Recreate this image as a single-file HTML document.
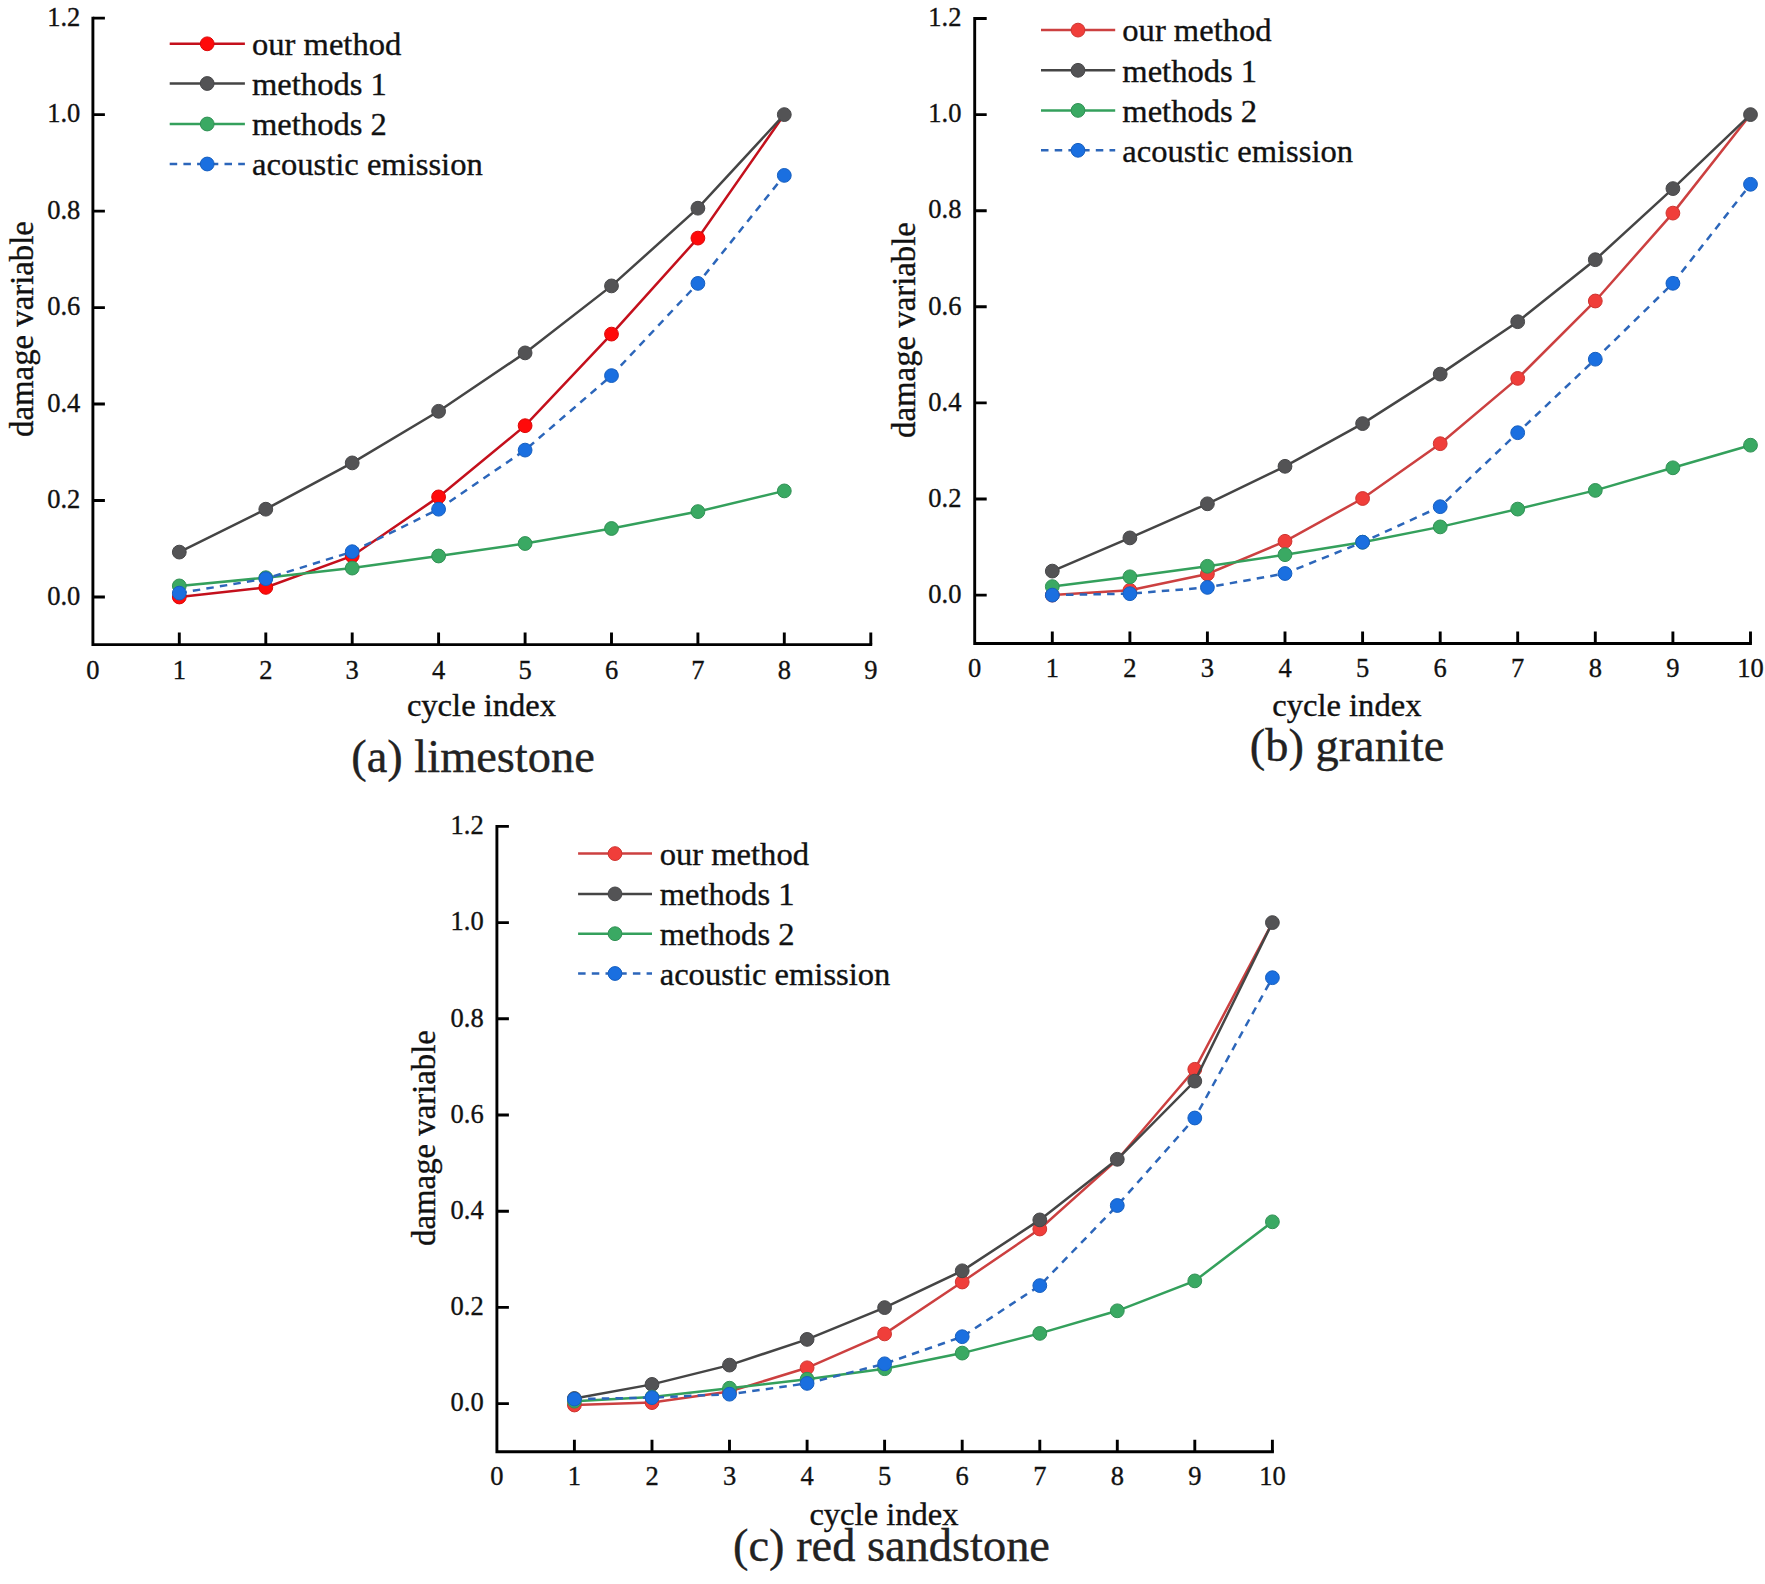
<!DOCTYPE html>
<html lang="en"><head><meta charset="utf-8"><title>Damage variable vs cycle index</title>
<style>
html,body{margin:0;padding:0;background:#fff;}
body{width:1765px;height:1584px;overflow:hidden;}
svg{display:block;font-family:"Liberation Serif", serif;}
text{stroke:#111;stroke-width:0.35px;paint-order:stroke fill;}
</style></head><body>
<svg width="1765" height="1584" viewBox="0 0 1765 1584">
<rect width="1765" height="1584" fill="#fff"/>
<g id="panel-a">
<path d="M92.9 16.7V644.6H872.2" fill="none" stroke="#000" stroke-width="2.9" stroke-linejoin="miter"/>
<path d="M92.9 597.0h12M92.9 500.5h12M92.9 404.0h12M92.9 307.6h12M92.9 211.1h12M92.9 114.6h12M92.9 18.1h12M179.3 644.6v-12M265.8 644.6v-12M352.2 644.6v-12M438.6 644.6v-12M525.1 644.6v-12M611.5 644.6v-12M697.9 644.6v-12M784.3 644.6v-12M870.8 644.6v-12" fill="none" stroke="#000" stroke-width="2.9"/>
<g font-size="26.5" fill="#111" text-anchor="end">
<text x="80.3" y="604.7">0.0</text>
<text x="80.3" y="508.2">0.2</text>
<text x="80.3" y="411.7">0.4</text>
<text x="80.3" y="315.3">0.6</text>
<text x="80.3" y="218.8">0.8</text>
<text x="80.3" y="122.3">1.0</text>
<text x="80.3" y="25.8">1.2</text>
</g>
<g font-size="26.5" fill="#111" text-anchor="middle">
<text x="92.9" y="678.9">0</text>
<text x="179.3" y="678.9">1</text>
<text x="265.8" y="678.9">2</text>
<text x="352.2" y="678.9">3</text>
<text x="438.6" y="678.9">4</text>
<text x="525.1" y="678.9">5</text>
<text x="611.5" y="678.9">6</text>
<text x="697.9" y="678.9">7</text>
<text x="784.3" y="678.9">8</text>
<text x="870.8" y="678.9">9</text>
</g>
<text font-size="32.8" fill="#111" text-anchor="middle" transform="translate(32.7 329) rotate(-90)">damage variable</text>
<text font-size="32.6" fill="#111" text-anchor="middle" x="481.5" y="715.5">cycle index</text>
<text font-size="46.4" fill="#222" text-anchor="middle" x="473" y="771.5">(a) limestone</text>
<path d="M179.3 597.0L265.8 587.4L352.2 556.0L438.6 496.9L525.1 425.7L611.5 334.1L697.9 238.1L784.3 114.6" fill="none" stroke="#c4101c" stroke-width="2.5"/>
<g fill="#ff0a0a" stroke="#db0808" stroke-width="1"><circle cx="179.3" cy="597.0" r="6.9"/><circle cx="265.8" cy="587.4" r="6.9"/><circle cx="352.2" cy="556.0" r="6.9"/><circle cx="438.6" cy="496.9" r="6.9"/><circle cx="525.1" cy="425.7" r="6.9"/><circle cx="611.5" cy="334.1" r="6.9"/><circle cx="697.9" cy="238.1" r="6.9"/></g>
<path d="M179.3 552.1L265.8 509.2L352.2 462.9L438.6 411.3L525.1 352.9L611.5 285.9L697.9 208.2L784.3 114.6" fill="none" stroke="#454545" stroke-width="2.5"/>
<g fill="#535355" stroke="#474749" stroke-width="1"><circle cx="179.3" cy="552.1" r="6.9"/><circle cx="265.8" cy="509.2" r="6.9"/><circle cx="352.2" cy="462.9" r="6.9"/><circle cx="438.6" cy="411.3" r="6.9"/><circle cx="525.1" cy="352.9" r="6.9"/><circle cx="611.5" cy="285.9" r="6.9"/><circle cx="697.9" cy="208.2" r="6.9"/><circle cx="784.3" cy="114.6" r="6.9"/></g>
<path d="M179.3 585.9L265.8 577.7L352.2 568.1L438.6 556.0L525.1 543.5L611.5 528.5L697.9 511.6L784.3 490.9" fill="none" stroke="#34a05c" stroke-width="2.5"/>
<g fill="#3aa963" stroke="#319155" stroke-width="1"><circle cx="179.3" cy="585.9" r="6.9"/><circle cx="265.8" cy="577.7" r="6.9"/><circle cx="352.2" cy="568.1" r="6.9"/><circle cx="438.6" cy="556.0" r="6.9"/><circle cx="525.1" cy="543.5" r="6.9"/><circle cx="611.5" cy="528.5" r="6.9"/><circle cx="697.9" cy="511.6" r="6.9"/><circle cx="784.3" cy="490.9" r="6.9"/></g>
<path d="M179.3 593.1L265.8 578.7L352.2 551.7L438.6 509.2L525.1 450.1L611.5 375.6L697.9 283.4L784.3 175.4" fill="none" stroke="#2c66ba" stroke-width="2.5" stroke-dasharray="7.5 6.2"/>
<g fill="#1a6fe0" stroke="#165fc0" stroke-width="1"><circle cx="179.3" cy="593.1" r="6.9"/><circle cx="265.8" cy="578.7" r="6.9"/><circle cx="352.2" cy="551.7" r="6.9"/><circle cx="438.6" cy="509.2" r="6.9"/><circle cx="525.1" cy="450.1" r="6.9"/><circle cx="611.5" cy="375.6" r="6.9"/><circle cx="697.9" cy="283.4" r="6.9"/><circle cx="784.3" cy="175.4" r="6.9"/></g>
<path d="M169.7 43.8H244.9" stroke="#c4101c" stroke-width="2.5"/>
<circle cx="207.2" cy="43.8" r="6.9" fill="#ff0a0a" stroke="#db0808" stroke-width="1"/>
<text font-size="32.6" fill="#111" x="252" y="55.0">our method</text>
<path d="M169.7 83.5H244.9" stroke="#454545" stroke-width="2.5"/>
<circle cx="207.2" cy="83.5" r="6.9" fill="#535355" stroke="#474749" stroke-width="1"/>
<text font-size="32.6" fill="#111" x="252" y="94.7">methods 1</text>
<path d="M169.7 124H244.9" stroke="#34a05c" stroke-width="2.5"/>
<circle cx="207.2" cy="124" r="6.9" fill="#3aa963" stroke="#319155" stroke-width="1"/>
<text font-size="32.6" fill="#111" x="252" y="135.2">methods 2</text>
<path d="M169.7 164H244.9" stroke="#2c66ba" stroke-width="2.5" stroke-dasharray="7.5 6.2"/>
<circle cx="207.2" cy="164" r="6.9" fill="#1a6fe0" stroke="#165fc0" stroke-width="1"/>
<text font-size="32.6" fill="#111" x="252" y="175.2">acoustic emission</text>
</g>
<g id="panel-b">
<path d="M974.7 17.1V643.5H1751.9" fill="none" stroke="#000" stroke-width="2.9" stroke-linejoin="miter"/>
<path d="M974.7 595.1h12M974.7 499.0h12M974.7 402.9h12M974.7 306.8h12M974.7 210.7h12M974.7 114.6h12M974.7 18.5h12M1052.3 643.5v-12M1129.9 643.5v-12M1207.4 643.5v-12M1285.0 643.5v-12M1362.6 643.5v-12M1440.2 643.5v-12M1517.7 643.5v-12M1595.3 643.5v-12M1672.9 643.5v-12M1750.5 643.5v-12" fill="none" stroke="#000" stroke-width="2.9"/>
<g font-size="26.5" fill="#111" text-anchor="end">
<text x="961.4" y="602.8">0.0</text>
<text x="961.4" y="506.7">0.2</text>
<text x="961.4" y="410.6">0.4</text>
<text x="961.4" y="314.5">0.6</text>
<text x="961.4" y="218.4">0.8</text>
<text x="961.4" y="122.3">1.0</text>
<text x="961.4" y="26.2">1.2</text>
</g>
<g font-size="26.5" fill="#111" text-anchor="middle">
<text x="974.7" y="676.9">0</text>
<text x="1052.3" y="676.9">1</text>
<text x="1129.9" y="676.9">2</text>
<text x="1207.4" y="676.9">3</text>
<text x="1285.0" y="676.9">4</text>
<text x="1362.6" y="676.9">5</text>
<text x="1440.2" y="676.9">6</text>
<text x="1517.7" y="676.9">7</text>
<text x="1595.3" y="676.9">8</text>
<text x="1672.9" y="676.9">9</text>
<text x="1750.5" y="676.9">10</text>
</g>
<text font-size="32.8" fill="#111" text-anchor="middle" transform="translate(915.1 330) rotate(-90)">damage variable</text>
<text font-size="32.6" fill="#111" text-anchor="middle" x="1346.8" y="715.5">cycle index</text>
<text font-size="46.4" fill="#222" text-anchor="middle" x="1347" y="760.7">(b) granite</text>
<path d="M1052.3 595.1L1129.9 590.3L1207.4 574.0L1285.0 541.3L1362.6 498.5L1440.2 443.7L1517.7 378.4L1595.3 301.0L1672.9 213.1L1750.5 114.6" fill="none" stroke="#cc4040" stroke-width="2.5"/>
<g fill="#f03e3a" stroke="#ce3531" stroke-width="1"><circle cx="1052.3" cy="595.1" r="6.9"/><circle cx="1129.9" cy="590.3" r="6.9"/><circle cx="1207.4" cy="574.0" r="6.9"/><circle cx="1285.0" cy="541.3" r="6.9"/><circle cx="1362.6" cy="498.5" r="6.9"/><circle cx="1440.2" cy="443.7" r="6.9"/><circle cx="1517.7" cy="378.4" r="6.9"/><circle cx="1595.3" cy="301.0" r="6.9"/><circle cx="1672.9" cy="213.1" r="6.9"/></g>
<path d="M1052.3 571.1L1129.9 537.9L1207.4 503.8L1285.0 466.3L1362.6 423.6L1440.2 374.1L1517.7 321.7L1595.3 259.7L1672.9 188.6L1750.5 114.6" fill="none" stroke="#454545" stroke-width="2.5"/>
<g fill="#535355" stroke="#474749" stroke-width="1"><circle cx="1052.3" cy="571.1" r="6.9"/><circle cx="1129.9" cy="537.9" r="6.9"/><circle cx="1207.4" cy="503.8" r="6.9"/><circle cx="1285.0" cy="466.3" r="6.9"/><circle cx="1362.6" cy="423.6" r="6.9"/><circle cx="1440.2" cy="374.1" r="6.9"/><circle cx="1517.7" cy="321.7" r="6.9"/><circle cx="1595.3" cy="259.7" r="6.9"/><circle cx="1672.9" cy="188.6" r="6.9"/><circle cx="1750.5" cy="114.6" r="6.9"/></g>
<path d="M1052.3 586.6L1129.9 576.8L1207.4 566.3L1285.0 554.7L1362.6 542.2L1440.2 526.9L1517.7 509.1L1595.3 490.4L1672.9 467.8L1750.5 445.2" fill="none" stroke="#34a05c" stroke-width="2.5"/>
<g fill="#3aa963" stroke="#319155" stroke-width="1"><circle cx="1052.3" cy="586.6" r="6.9"/><circle cx="1129.9" cy="576.8" r="6.9"/><circle cx="1207.4" cy="566.3" r="6.9"/><circle cx="1285.0" cy="554.7" r="6.9"/><circle cx="1362.6" cy="542.2" r="6.9"/><circle cx="1440.2" cy="526.9" r="6.9"/><circle cx="1517.7" cy="509.1" r="6.9"/><circle cx="1595.3" cy="490.4" r="6.9"/><circle cx="1672.9" cy="467.8" r="6.9"/><circle cx="1750.5" cy="445.2" r="6.9"/></g>
<path d="M1052.3 595.1L1129.9 593.7L1207.4 587.4L1285.0 573.5L1362.6 542.2L1440.2 506.7L1517.7 432.7L1595.3 359.2L1672.9 283.3L1750.5 184.3" fill="none" stroke="#2c66ba" stroke-width="2.5" stroke-dasharray="7.5 6.2"/>
<g fill="#1a6fe0" stroke="#165fc0" stroke-width="1"><circle cx="1052.3" cy="595.1" r="6.9"/><circle cx="1129.9" cy="593.7" r="6.9"/><circle cx="1207.4" cy="587.4" r="6.9"/><circle cx="1285.0" cy="573.5" r="6.9"/><circle cx="1362.6" cy="542.2" r="6.9"/><circle cx="1440.2" cy="506.7" r="6.9"/><circle cx="1517.7" cy="432.7" r="6.9"/><circle cx="1595.3" cy="359.2" r="6.9"/><circle cx="1672.9" cy="283.3" r="6.9"/><circle cx="1750.5" cy="184.3" r="6.9"/></g>
<path d="M1041 30.1H1115.2" stroke="#cc4040" stroke-width="2.5"/>
<circle cx="1078" cy="30.1" r="6.9" fill="#f03e3a" stroke="#ce3531" stroke-width="1"/>
<text font-size="32.6" fill="#111" x="1122.3" y="41.3">our method</text>
<path d="M1041 70.3H1115.2" stroke="#454545" stroke-width="2.5"/>
<circle cx="1078" cy="70.3" r="6.9" fill="#535355" stroke="#474749" stroke-width="1"/>
<text font-size="32.6" fill="#111" x="1122.3" y="81.5">methods 1</text>
<path d="M1041 110.4H1115.2" stroke="#34a05c" stroke-width="2.5"/>
<circle cx="1078" cy="110.4" r="6.9" fill="#3aa963" stroke="#319155" stroke-width="1"/>
<text font-size="32.6" fill="#111" x="1122.3" y="121.6">methods 2</text>
<path d="M1041 150.3H1115.2" stroke="#2c66ba" stroke-width="2.5" stroke-dasharray="7.5 6.2"/>
<circle cx="1078" cy="150.3" r="6.9" fill="#1a6fe0" stroke="#165fc0" stroke-width="1"/>
<text font-size="32.6" fill="#111" x="1122.3" y="161.5">acoustic emission</text>
</g>
<g id="panel-c">
<path d="M496.9 824.9V1451.8H1273.9" fill="none" stroke="#000" stroke-width="2.9" stroke-linejoin="miter"/>
<path d="M496.9 1403.6h12M496.9 1307.4h12M496.9 1211.2h12M496.9 1115.0h12M496.9 1018.8h12M496.9 922.6h12M496.9 826.4h12M574.4 1451.8v-12M652.0 1451.8v-12M729.5 1451.8v-12M807.1 1451.8v-12M884.6 1451.8v-12M962.2 1451.8v-12M1039.8 1451.8v-12M1117.3 1451.8v-12M1194.8 1451.8v-12M1272.4 1451.8v-12" fill="none" stroke="#000" stroke-width="2.9"/>
<g font-size="26.5" fill="#111" text-anchor="end">
<text x="483.7" y="1411.3">0.0</text>
<text x="483.7" y="1315.1">0.2</text>
<text x="483.7" y="1218.9">0.4</text>
<text x="483.7" y="1122.7">0.6</text>
<text x="483.7" y="1026.5">0.8</text>
<text x="483.7" y="930.3">1.0</text>
<text x="483.7" y="834.1">1.2</text>
</g>
<g font-size="26.5" fill="#111" text-anchor="middle">
<text x="496.9" y="1485.2">0</text>
<text x="574.4" y="1485.2">1</text>
<text x="652.0" y="1485.2">2</text>
<text x="729.5" y="1485.2">3</text>
<text x="807.1" y="1485.2">4</text>
<text x="884.6" y="1485.2">5</text>
<text x="962.2" y="1485.2">6</text>
<text x="1039.8" y="1485.2">7</text>
<text x="1117.3" y="1485.2">8</text>
<text x="1194.8" y="1485.2">9</text>
<text x="1272.4" y="1485.2">10</text>
</g>
<text font-size="32.8" fill="#111" text-anchor="middle" transform="translate(435.1 1138) rotate(-90)">damage variable</text>
<text font-size="32.6" fill="#111" text-anchor="middle" x="884" y="1525.1">cycle index</text>
<text font-size="46.4" fill="#222" text-anchor="middle" x="891.5" y="1560.7">(c) red sandstone</text>
<path d="M574.4 1405.0L652.0 1402.6L729.5 1391.6L807.1 1367.8L884.6 1333.9L962.2 1282.0L1039.8 1229.0L1117.3 1159.7L1194.8 1069.3L1272.4 922.6" fill="none" stroke="#cc4040" stroke-width="2.5"/>
<g fill="#f03e3a" stroke="#ce3531" stroke-width="1"><circle cx="574.4" cy="1405.0" r="6.9"/><circle cx="652.0" cy="1402.6" r="6.9"/><circle cx="729.5" cy="1391.6" r="6.9"/><circle cx="807.1" cy="1367.8" r="6.9"/><circle cx="884.6" cy="1333.9" r="6.9"/><circle cx="962.2" cy="1282.0" r="6.9"/><circle cx="1039.8" cy="1229.0" r="6.9"/><circle cx="1194.8" cy="1069.3" r="6.9"/></g>
<path d="M574.4 1398.5L652.0 1384.4L729.5 1365.1L807.1 1339.4L884.6 1307.6L962.2 1270.8L1039.8 1219.9L1117.3 1159.3L1194.8 1081.1L1272.4 922.6" fill="none" stroke="#454545" stroke-width="2.5"/>
<g fill="#535355" stroke="#474749" stroke-width="1"><circle cx="574.4" cy="1398.5" r="6.9"/><circle cx="652.0" cy="1384.4" r="6.9"/><circle cx="729.5" cy="1365.1" r="6.9"/><circle cx="807.1" cy="1339.4" r="6.9"/><circle cx="884.6" cy="1307.6" r="6.9"/><circle cx="962.2" cy="1270.8" r="6.9"/><circle cx="1039.8" cy="1219.9" r="6.9"/><circle cx="1117.3" cy="1159.3" r="6.9"/><circle cx="1194.8" cy="1081.1" r="6.9"/><circle cx="1272.4" cy="922.6" r="6.9"/></g>
<path d="M574.4 1401.2L652.0 1397.1L729.5 1388.2L807.1 1379.2L884.6 1368.7L962.2 1353.1L1039.8 1333.4L1117.3 1310.8L1194.8 1280.9L1272.4 1221.8" fill="none" stroke="#34a05c" stroke-width="2.5"/>
<g fill="#3aa963" stroke="#319155" stroke-width="1"><circle cx="574.4" cy="1401.2" r="6.9"/><circle cx="652.0" cy="1397.1" r="6.9"/><circle cx="729.5" cy="1388.2" r="6.9"/><circle cx="807.1" cy="1379.2" r="6.9"/><circle cx="884.6" cy="1368.7" r="6.9"/><circle cx="962.2" cy="1353.1" r="6.9"/><circle cx="1039.8" cy="1333.4" r="6.9"/><circle cx="1117.3" cy="1310.8" r="6.9"/><circle cx="1194.8" cy="1280.9" r="6.9"/><circle cx="1272.4" cy="1221.8" r="6.9"/></g>
<path d="M574.4 1399.1L652.0 1397.6L729.5 1394.2L807.1 1383.4L884.6 1363.8L962.2 1336.7L1039.8 1285.6L1117.3 1205.5L1194.8 1118.0L1272.4 977.7" fill="none" stroke="#2c66ba" stroke-width="2.5" stroke-dasharray="7.5 6.2"/>
<g fill="#1a6fe0" stroke="#165fc0" stroke-width="1"><circle cx="574.4" cy="1399.1" r="6.9"/><circle cx="652.0" cy="1397.6" r="6.9"/><circle cx="729.5" cy="1394.2" r="6.9"/><circle cx="807.1" cy="1383.4" r="6.9"/><circle cx="884.6" cy="1363.8" r="6.9"/><circle cx="962.2" cy="1336.7" r="6.9"/><circle cx="1039.8" cy="1285.6" r="6.9"/><circle cx="1117.3" cy="1205.5" r="6.9"/><circle cx="1194.8" cy="1118.0" r="6.9"/><circle cx="1272.4" cy="977.7" r="6.9"/></g>
<path d="M578.1 853.6H652" stroke="#cc4040" stroke-width="2.5"/>
<circle cx="615" cy="853.6" r="6.9" fill="#f03e3a" stroke="#ce3531" stroke-width="1"/>
<text font-size="32.6" fill="#111" x="659.7" y="864.8">our method</text>
<path d="M578.1 893.9H652" stroke="#454545" stroke-width="2.5"/>
<circle cx="615" cy="893.9" r="6.9" fill="#535355" stroke="#474749" stroke-width="1"/>
<text font-size="32.6" fill="#111" x="659.7" y="905.1">methods 1</text>
<path d="M578.1 933.7H652" stroke="#34a05c" stroke-width="2.5"/>
<circle cx="615" cy="933.7" r="6.9" fill="#3aa963" stroke="#319155" stroke-width="1"/>
<text font-size="32.6" fill="#111" x="659.7" y="944.9">methods 2</text>
<path d="M578.1 973.5H652" stroke="#2c66ba" stroke-width="2.5" stroke-dasharray="7.5 6.2"/>
<circle cx="615" cy="973.5" r="6.9" fill="#1a6fe0" stroke="#165fc0" stroke-width="1"/>
<text font-size="32.6" fill="#111" x="659.7" y="984.7">acoustic emission</text>
</g>
</svg>
</body></html>
